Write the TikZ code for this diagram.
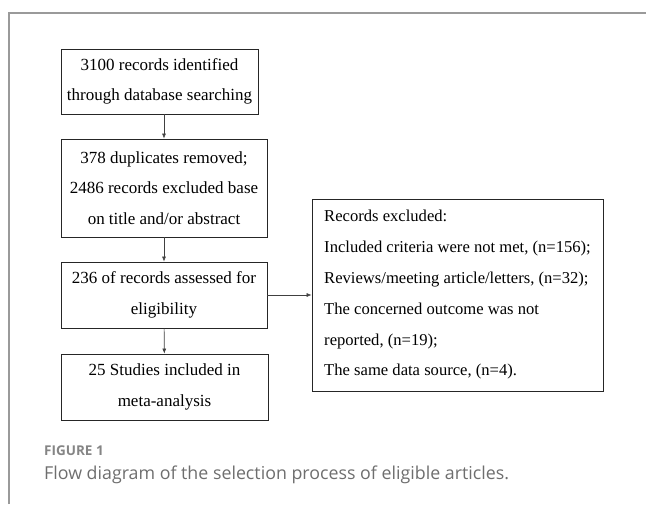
\documentclass[tikz,border=0pt]{standalone}
\usepackage{fontspec}
\setmainfont{Liberation Serif}
\newfontfamily\capfont{Open Sans}
\usetikzlibrary{arrows.meta}
\definecolor{framegray}{HTML}{9A9A9A}
\definecolor{capgray}{HTML}{6E6E6E}
\definecolor{labelgray}{HTML}{858585}
\tikzset{
  flowbox/.style={draw=black!85, line width=0.8pt, inner sep=0pt, align=center,
    font=\fontsize{17}{30.5}\selectfont},
  flowarrow/.style={draw=black!75, line width=0.6pt, -{Latex[length=5pt,width=4pt]}},
  captext/.style={anchor=west, inner sep=0pt, text=capgray}
}
\begin{document}
\begin{tikzpicture}[x=1pt,y=-1pt]
\useasboundingbox (0,0) rectangle (646,504);
% Drawing frame
\draw[framegray, line width=1.5pt] (9,504) -- (9,13) -- (646,13);
% Drawing boxes
\node[flowbox, minimum width=197pt, minimum height=65pt] (search) at (159.5,81.5)
  {3100 records identified\\through database searching};
\node[flowbox, minimum width=206pt, minimum height=98pt] (screen) at (164,188)
  {378 duplicates removed;\\2486 records excluded base\\on title and/or abstract};
\node[flowbox, minimum width=206pt, minimum height=66pt] (assess) at (164,295)
  {236 of records assessed for\\eligibility};
\node[flowbox, minimum width=207pt, minimum height=66pt] (included) at (164.5,387)
  {25 Studies included in\\meta-analysis};
\node[flowbox, align=left, minimum width=291pt, minimum height=192pt,
  font=\fontsize{16.6}{30.8}\selectfont] (excluded) at (457.5,295)
  {Records excluded:\\Included criteria were not met, (n=156);\\Reviews/meeting article/letters, (n=32);\\The concerned outcome was not\\reported, (n=19);\\The same data source, (n=4).};
% Drawing arrows
\draw[flowarrow] (search.south -| screen.north) -- (screen.north);
\draw[flowarrow] (screen) -- (assess);
\draw[flowarrow] (assess) -- (included);
\draw[flowarrow] (assess) -- (excluded);
% Drawing caption
\node[captext, text=labelgray, font=\capfont\bfseries\fontsize{13.5}{15}\selectfont] (figlabel) at (44,451) {FIGURE 1};
\node[captext, font=\capfont\fontsize{17.8}{20}\selectfont] (figcaption) at (44,475)
  {Flow diagram of the selection process of eligible articles.};
\end{tikzpicture}
\end{document}
